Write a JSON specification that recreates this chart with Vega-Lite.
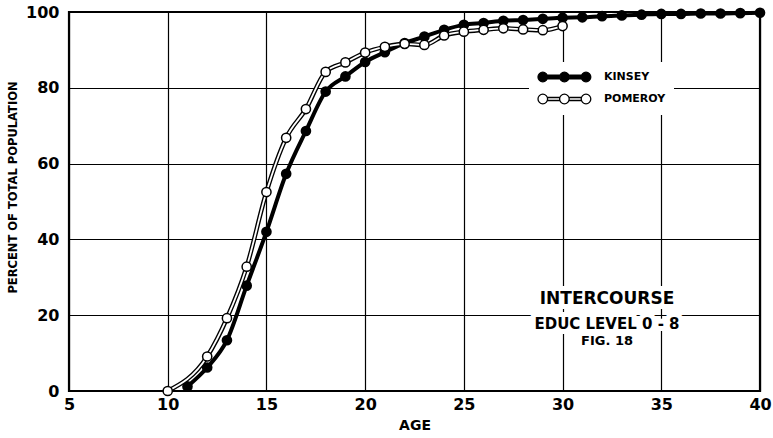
{
  "$schema": "https://vega.github.io/schema/vega-lite/v6.json",
  "width": 691,
  "height": 379,
  "autosize": {"type": "none"},
  "padding": {"left": 69, "top": 12, "right": 13, "bottom": 47},
  "background": "white",
  "config": {
    "font": "DejaVu Sans",
    "view": {"stroke": "black", "strokeWidth": 2.2},
    "axis": {
      "domain": false,
      "ticks": false,
      "grid": true,
      "gridColor": "black",
      "gridWidth": 1.2,
      "gridOpacity": 1,
      "labelFont": "DejaVu Sans",
      "labelFontWeight": "bold",
      "labelFontSize": 16,
      "labelColor": "black",
      "labelFlush": false,
      "titleFont": "DejaVu Sans",
      "titleFontWeight": "bold",
      "titleColor": "black"
    }
  },
  "datasets": {
    "curves": [
      {"series": "KINSEY", "age": 11, "pct": 1.2},
      {"series": "KINSEY", "age": 12, "pct": 6.2},
      {"series": "KINSEY", "age": 13, "pct": 13.4},
      {"series": "KINSEY", "age": 14, "pct": 27.8},
      {"series": "KINSEY", "age": 15, "pct": 42.0},
      {"series": "KINSEY", "age": 16, "pct": 57.3},
      {"series": "KINSEY", "age": 17, "pct": 68.6},
      {"series": "KINSEY", "age": 18, "pct": 79.0},
      {"series": "KINSEY", "age": 19, "pct": 83.0},
      {"series": "KINSEY", "age": 20, "pct": 86.8},
      {"series": "KINSEY", "age": 21, "pct": 89.4},
      {"series": "KINSEY", "age": 22, "pct": 91.8},
      {"series": "KINSEY", "age": 23, "pct": 93.5},
      {"series": "KINSEY", "age": 24, "pct": 95.3},
      {"series": "KINSEY", "age": 25, "pct": 96.6},
      {"series": "KINSEY", "age": 26, "pct": 97.1},
      {"series": "KINSEY", "age": 27, "pct": 97.7},
      {"series": "KINSEY", "age": 28, "pct": 97.9},
      {"series": "KINSEY", "age": 29, "pct": 98.2},
      {"series": "KINSEY", "age": 30, "pct": 98.5},
      {"series": "KINSEY", "age": 31, "pct": 98.6},
      {"series": "KINSEY", "age": 32, "pct": 98.9},
      {"series": "KINSEY", "age": 33, "pct": 99.1},
      {"series": "KINSEY", "age": 34, "pct": 99.3},
      {"series": "KINSEY", "age": 35, "pct": 99.5},
      {"series": "KINSEY", "age": 36, "pct": 99.5},
      {"series": "KINSEY", "age": 37, "pct": 99.6},
      {"series": "KINSEY", "age": 38, "pct": 99.6},
      {"series": "KINSEY", "age": 39, "pct": 99.7},
      {"series": "KINSEY", "age": 40, "pct": 99.8},
      {"series": "POMEROY", "age": 10, "pct": 0.0},
      {"series": "POMEROY", "age": 12, "pct": 9.1},
      {"series": "POMEROY", "age": 13, "pct": 19.2},
      {"series": "POMEROY", "age": 14, "pct": 32.8},
      {"series": "POMEROY", "age": 15, "pct": 52.5},
      {"series": "POMEROY", "age": 16, "pct": 66.8},
      {"series": "POMEROY", "age": 17, "pct": 74.4},
      {"series": "POMEROY", "age": 18, "pct": 84.2},
      {"series": "POMEROY", "age": 19, "pct": 86.7},
      {"series": "POMEROY", "age": 20, "pct": 89.3},
      {"series": "POMEROY", "age": 21, "pct": 90.8},
      {"series": "POMEROY", "age": 22, "pct": 91.6},
      {"series": "POMEROY", "age": 23, "pct": 91.3},
      {"series": "POMEROY", "age": 24, "pct": 93.8},
      {"series": "POMEROY", "age": 25, "pct": 94.8},
      {"series": "POMEROY", "age": 26, "pct": 95.3},
      {"series": "POMEROY", "age": 27, "pct": 95.7},
      {"series": "POMEROY", "age": 28, "pct": 95.4},
      {"series": "POMEROY", "age": 29, "pct": 95.2},
      {"series": "POMEROY", "age": 30, "pct": 96.3}
    ]
  },
  "encoding": {
    "x": {
      "field": "age",
      "type": "quantitative",
      "scale": {"domain": [5, 40], "nice": false, "zero": false},
      "axis": {
        "values": [5, 10, 15, 20, 25, 30, 35, 40],
        "title": "AGE",
        "titleFontSize": 14,
        "labelPadding": 5,
        "titleY": 34,
        "titleBaseline": "middle"
      }
    },
    "y": {
      "field": "pct",
      "type": "quantitative",
      "scale": {"domain": [0, 100], "nice": false},
      "axis": {
        "values": [0, 20, 40, 60, 80, 100],
        "title": "PERCENT OF TOTAL POPULATION",
        "titleFontSize": 11.5,
        "labelPadding": 10,
        "titleX": -56,
        "titleY": 175,
        "titleBaseline": "middle"
      }
    }
  },
  "layer": [
    {
      "data": {"name": "curves"},
      "transform": [{"filter": "datum.series === 'KINSEY'"}],
      "mark": {"type": "line", "color": "black", "strokeWidth": 4, "interpolate": "monotone"}
    },
    {
      "data": {"name": "curves"},
      "transform": [{"filter": "datum.series === 'KINSEY'"}],
      "mark": {"type": "point", "shape": "circle", "filled": true, "fill": "black", "stroke": "black", "size": 75, "opacity": 1}
    },
    {
      "data": {"name": "curves"},
      "transform": [{"filter": "datum.series === 'POMEROY'"}],
      "mark": {"type": "line", "color": "black", "strokeWidth": 4.5, "interpolate": "monotone"}
    },
    {
      "data": {"name": "curves"},
      "transform": [{"filter": "datum.series === 'POMEROY'"}],
      "mark": {"type": "line", "color": "white", "strokeWidth": 1.8, "interpolate": "monotone"}
    },
    {
      "data": {"name": "curves"},
      "transform": [{"filter": "datum.series === 'POMEROY'"}],
      "mark": {"type": "point", "shape": "circle", "filled": true, "fill": "white", "stroke": "black", "strokeWidth": 1.5, "size": 85, "opacity": 1}
    },
    {
      "data": {"name": "curves"},
      "mark": {"type": "point", "stroke": "black", "opacity": 0},
      "encoding": {
        "shape": {
          "field": "series",
          "type": "nominal",
          "scale": {
            "domain": ["KINSEY", "POMEROY"],
            "range": [
              "M-1,0A0.8,0.8,0,1,0,0.6,0A0.8,0.8,0,1,0,-1,0ZM2.6,0A0.8,0.8,0,1,0,4.2,0A0.8,0.8,0,1,0,2.6,0ZM6.2,0A0.8,0.8,0,1,0,7.8,0A0.8,0.8,0,1,0,6.2,0ZM0.5,-0.32L2.7,-0.32L2.7,0.32L0.5,0.32ZM4.1,-0.32L6.3,-0.32L6.3,0.32L4.1,0.32Z",
              "M-1,0A0.8,0.8,0,1,0,0.6,0A0.8,0.8,0,1,0,-1,0ZM2.6,0A0.8,0.8,0,1,0,4.2,0A0.8,0.8,0,1,0,2.6,0ZM6.2,0A0.8,0.8,0,1,0,7.8,0A0.8,0.8,0,1,0,6.2,0ZM0.56,-0.25L2.64,-0.25M0.56,0.25L2.64,0.25M4.16,-0.25L6.24,-0.25M4.16,0.25L6.24,0.25"
            ]
          },
          "legend": {
            "title": null,
            "orient": "none",
            "legendX": 460,
            "legendY": 50,
            "padding": 8,
            "fillColor": "white",
            "symbolSize": 144,
            "symbolOpacity": 1,
            "symbolStrokeColor": "black",
            "symbolStrokeWidth": 1.3,
            "labelOffset": 53,
            "labelFont": "DejaVu Sans",
            "labelFontWeight": "bold",
            "labelFontSize": 11,
            "labelColor": "black",
            "rowPadding": 6,
            "encode": {
              "symbols": {
                "update": {
                  "stroke": {"value": "black"},
                  "strokeWidth": {"value": 1.3},
                  "opacity": {"value": 1},
                  "strokeOpacity": {"value": 1},
                  "fillOpacity": {"value": 1}
                }
              }
            }
          }
        },
        "fill": {
          "field": "series",
          "type": "nominal",
          "scale": {"domain": ["KINSEY", "POMEROY"], "range": ["black", "white"]},
          "legend": {
            "title": null,
            "orient": "none",
            "legendX": 460,
            "legendY": 50,
            "padding": 8,
            "fillColor": "white",
            "symbolSize": 144,
            "symbolOpacity": 1,
            "symbolStrokeColor": "black",
            "symbolStrokeWidth": 1.3,
            "labelOffset": 53,
            "labelFont": "DejaVu Sans",
            "labelFontWeight": "bold",
            "labelFontSize": 11,
            "labelColor": "black",
            "rowPadding": 6,
            "encode": {
              "symbols": {
                "update": {
                  "stroke": {"value": "black"},
                  "strokeWidth": {"value": 1.3},
                  "opacity": {"value": 1},
                  "strokeOpacity": {"value": 1},
                  "fillOpacity": {"value": 1}
                }
              }
            }
          }
        }
      }
    },
    {
      "data": {"values": [{"age": 32.25, "pct": 24.3, "label": "INTERCOURSE"}]},
      "mark": {"type": "text", "font": "DejaVu Sans", "fontWeight": "bold", "fontSize": 17, "baseline": "middle", "align": "center", "fill": "white", "stroke": "white", "strokeWidth": 10},
      "encoding": {"text": {"field": "label"}}
    },
    {
      "data": {"values": [{"age": 32.25, "pct": 17.7, "label": "EDUC  LEVEL  0 - 8"}]},
      "mark": {"type": "text", "font": "DejaVu Sans", "fontWeight": "bold", "fontSize": 15, "baseline": "middle", "align": "center", "fill": "white", "stroke": "white", "strokeWidth": 10},
      "encoding": {"text": {"field": "label"}}
    },
    {
      "data": {"values": [{"age": 32.25, "pct": 13.2, "label": "FIG. 18"}]},
      "mark": {"type": "text", "font": "DejaVu Sans", "fontWeight": "bold", "fontSize": 13, "baseline": "middle", "align": "center", "fill": "white", "stroke": "white", "strokeWidth": 8},
      "encoding": {"text": {"field": "label"}}
    },
    {
      "data": {"values": [{"age": 32.25, "pct": 24.3, "label": "INTERCOURSE"}]},
      "mark": {"type": "text", "font": "DejaVu Sans", "fontWeight": "bold", "fontSize": 17, "baseline": "middle", "align": "center", "fill": "black"},
      "encoding": {"text": {"field": "label"}}
    },
    {
      "data": {"values": [{"age": 32.25, "pct": 17.7, "label": "EDUC  LEVEL  0 - 8"}]},
      "mark": {"type": "text", "font": "DejaVu Sans", "fontWeight": "bold", "fontSize": 15, "baseline": "middle", "align": "center", "fill": "black"},
      "encoding": {"text": {"field": "label"}}
    },
    {
      "data": {"values": [{"age": 32.25, "pct": 13.2, "label": "FIG. 18"}]},
      "mark": {"type": "text", "font": "DejaVu Sans", "fontWeight": "bold", "fontSize": 13, "baseline": "middle", "align": "center", "fill": "black"},
      "encoding": {"text": {"field": "label"}}
    }
  ]
}
